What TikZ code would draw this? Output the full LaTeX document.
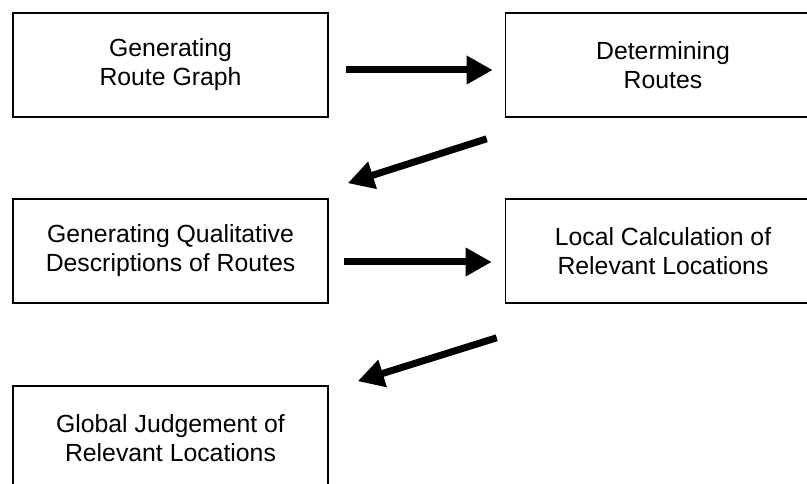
\documentclass[tikz,border=0pt]{standalone}
\usepackage{fontspec}
\setmainfont{Liberation Sans}
\usetikzlibrary{arrows.meta}

\tikzset{
  stage/.style={draw, line width=1.6pt, minimum width=315pt, minimum height=104pt,
    inner sep=0pt, align=center, font=\fontsize{24.8}{29}\selectfont},
  flow/.style={line width=7pt, -{Triangle[length=26pt, width=27pt]}}
}

\begin{document}
\begin{tikzpicture}[x=1pt, y=-1pt]
  \useasboundingbox (0,0) rectangle (807,484);

  % Stages
  \node[stage] (graph) at (170.5,65)  {Generating\\Route Graph};
  \node[stage] (routes) at (663,65)   {Determining\\Routes};
  \node[stage] (descr) at (170.5,251) {Generating Qualitative\\Descriptions of Routes};
  \node[stage] (local) at (663,251)   {Local Calculation of\\Relevant Locations};
  \node[stage] (global) at (170.5,438) {Global Judgement of\\Relevant Locations};

  % Flow between stages
  \draw[flow, shorten <=17pt, shorten >=12pt]
    ([yshift=-5pt]graph.east) -- ([yshift=-5pt]routes.west);
  \draw[flow] ([xshift=-18pt, yshift=-21pt]routes.south west)
    -- ([xshift=19pt, yshift=15pt]descr.north east);
  \draw[flow, shorten <=15pt, shorten >=13pt]
    ([yshift=-11pt]descr.east) -- ([yshift=-11pt]local.west);
  \draw[flow] ([xshift=-8pt, yshift=-34pt]local.south west)
    -- ([xshift=29pt, yshift=4pt]global.north east);
\end{tikzpicture}
\end{document}
